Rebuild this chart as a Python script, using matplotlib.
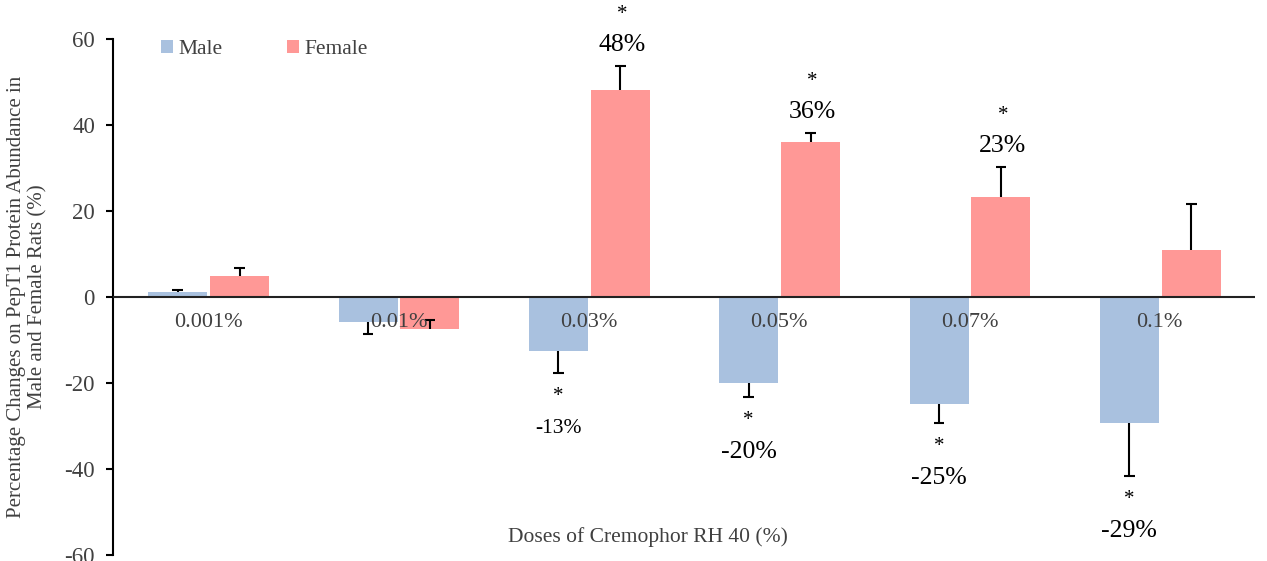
import numpy as np
import matplotlib.pyplot as plt

plt.rcParams['font.family'] = ['Liberation Serif', 'DejaVu Serif']
plt.rcParams['axes.unicode_minus'] = False

doses = ['0.001%', '0.01%', '0.03%', '0.05%', '0.07%', '0.1%']
male = [1.2, -5.8, -12.6, -20.0, -24.9, -29.3]
female = [4.9, -7.4, 48.1, 36.0, 23.3, 10.9]
# one-sided error bars, signed (drawn from the bar end)
male_err = [0.5, -2.8, -5.1, -3.3, -4.4, -12.3]
female_err = [1.8, 2.0, 5.6, 2.1, 6.9, 10.7]

male_labels = ['', '', '-13%', '-20%', '-25%', '-29%']
female_labels = ['', '', '48%', '36%', '23%', '']

c_male = '#A9C1DF'
c_female = '#FF9896'
txt = '#404040'

fig = plt.figure(figsize=(12.67, 5.61), dpi=100)
ax = fig.add_axes([0.0892, 0.0107, 0.9013, 0.9198])

x = np.arange(len(doses))
w = 0.31
xm = x - 0.16
xf = x + 0.165
ax.bar(xm, male, w, color=c_male, label='Male', zorder=2)
ax.bar(xf, female, w, color=c_female, label='Female', zorder=2)

# error bars with a cap only at the far end
for xs, vals, errs in [(xm, male, male_err), (xf, female, female_err)]:
    ends = np.array(vals) + np.array(errs)
    ax.vlines(xs, vals, ends, color='black', lw=1.5, zorder=3)
    ax.hlines(ends, xs - 0.028, xs + 0.028, color='black', lw=1.5, zorder=3)

ax.axhline(0, color='#222222', lw=1.5, zorder=4)

# significance labels
for i in range(len(doses)):
    if female_labels[i]:
        top = female[i] + female_err[i]
        ax.text(xf[i] + 0.01, top + 12.0, '*', ha='center', va='center', fontsize=15)
        ax.text(xf[i] + 0.01, top + 4.9, female_labels[i], ha='center', va='center', fontsize=18.5)
    if male_labels[i]:
        bot = male[i] + male_err[i]
        fs = 15.5 if i == 2 else 18.5
        ax.text(xm[i], bot - 5.4, '*', ha='center', va='center', fontsize=15)
        ax.text(xm[i], bot - 12.8, male_labels[i], ha='center', va='center', fontsize=fs)

for i, d in enumerate(doses):
    ax.text(x[i], -6, d, ha='center', va='center', fontsize=16, color=txt, zorder=5)

ax.text(0.468, 0.015, 'Doses of Cremophor RH 40 (%)', transform=ax.transAxes,
        ha='center', va='bottom', fontsize=15.5, color=txt)

ax.set_xlim(-0.5, len(doses) - 0.5)
ax.set_ylim(-60, 60)
ax.set_yticks(np.arange(-60, 61, 20))
ax.tick_params(axis='y', labelsize=16.5, labelcolor=txt, length=5, width=1.5,
               direction='out', pad=8)
ax.set_xticks([])
for s in ['top', 'right', 'bottom']:
    ax.spines[s].set_visible(False)
ax.spines['left'].set_linewidth(1.5)

ax.set_ylabel('Percentage Changes on PepT1 Protein Abundance in\nMale and Female Rats (%)',
              fontsize=15, color=txt, labelpad=12)

ax.legend(loc='upper left', bbox_to_anchor=(0.025, 1.035), ncol=2, frameon=False,
          fontsize=15.5, handlelength=0.55, handleheight=0.55, handletextpad=0.25,
          columnspacing=3.0, labelcolor=txt)

fig.savefig('out.png', dpi=100)
